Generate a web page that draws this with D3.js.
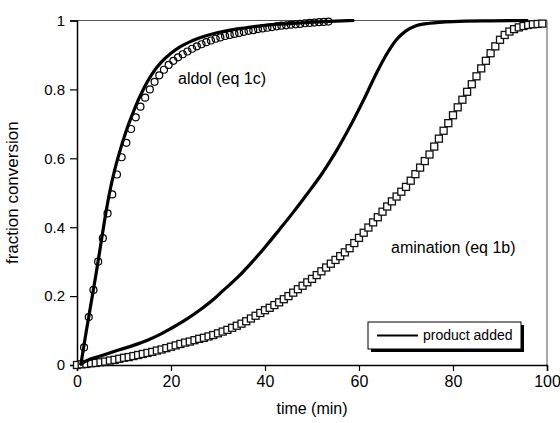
<html lang="en">
<head>
<meta charset="utf-8">
<title>fraction conversion vs time</title>
<script src="https://cdn.jsdelivr.net/npm/d3@7"></script>
<style>
  body { margin: 0; background: #fff; }
  text { font-family: "Liberation Sans", Arial, Helvetica, sans-serif; fill: #000; }
</style>
</head>
<body>
<script>
// amination data (squares), one point per minute starting at t = 0
var aminStart = 0;
var aminValues = [
  0.000, 0.002, 0.003, 0.005, 0.006, 0.008, 0.010, 0.013, 0.015, 0.018,
  0.021, 0.023, 0.026, 0.029, 0.032, 0.035, 0.038, 0.042, 0.045, 0.049,
  0.053, 0.057, 0.061, 0.065, 0.068, 0.072, 0.076, 0.079, 0.083, 0.087,
  0.092, 0.097, 0.102, 0.108, 0.114, 0.120, 0.127, 0.135, 0.143, 0.151,
  0.159, 0.166, 0.174, 0.182, 0.191, 0.200, 0.210, 0.220, 0.230, 0.240,
  0.250, 0.261, 0.272, 0.283, 0.294, 0.305, 0.316, 0.327, 0.339, 0.354,
  0.369, 0.384, 0.399, 0.414, 0.429, 0.445, 0.460, 0.475, 0.489, 0.503,
  0.517, 0.535, 0.554, 0.573, 0.592, 0.611, 0.634, 0.657, 0.680, 0.702,
  0.725, 0.748, 0.770, 0.793, 0.815, 0.838, 0.861, 0.883, 0.905, 0.925,
  0.944, 0.958, 0.968, 0.975, 0.980, 0.984, 0.987, 0.989, 0.990, 0.991
];

// aldol data (circles), one point per minute starting at t = 1.5
var aldolStart = 1.5;
var aldolValues = [
  0.051, 0.139, 0.218, 0.300, 0.368, 0.440, 0.495, 0.553, 0.603, 0.645,
  0.685, 0.719, 0.750, 0.776, 0.800, 0.822, 0.841, 0.857, 0.871, 0.883,
  0.893, 0.902, 0.910, 0.918, 0.925, 0.931, 0.937, 0.942, 0.947, 0.951,
  0.955, 0.958, 0.961, 0.964, 0.967, 0.970, 0.972, 0.975, 0.977, 0.979,
  0.981, 0.983, 0.985, 0.986, 0.988, 0.989, 0.990, 0.992, 0.993, 0.994,
  0.995, 0.996, 0.997
];

// "product added" curves
var aldolLineT = [0.8, 2, 3, 4, 5, 6, 7, 8, 9, 10, 11, 12, 13, 14, 15, 16, 17, 18, 20, 22, 24, 26, 28, 32, 36, 40, 45, 50, 55, 59];
var aldolLineY = [0, 0.1, 0.18, 0.26, 0.345, 0.43, 0.505, 0.565, 0.615, 0.66, 0.70, 0.735, 0.768, 0.797, 0.823, 0.845, 0.864, 0.88, 0.905, 0.924, 0.938, 0.949, 0.958, 0.971, 0.979, 0.986, 0.991, 0.995, 0.998, 1.0];

var aminLineT = [0.6, 2, 5, 9, 12, 15, 18, 20, 23, 26, 29, 31, 34, 37, 40, 43, 46, 49, 52, 55, 58, 61, 64, 66, 68, 70, 72, 75, 80, 88, 96];
var aminLineY = [0, 0.012, 0.026, 0.044, 0.057, 0.072, 0.091, 0.106, 0.13, 0.158, 0.19, 0.215, 0.252, 0.295, 0.342, 0.392, 0.443, 0.497, 0.553, 0.617, 0.69, 0.77, 0.855, 0.905, 0.945, 0.97, 0.984, 0.992, 0.997, 0.999, 1.0];

var xTicks = [0, 20, 40, 60, 80, 100];
var yTicks = [0, 0.2, 0.4, 0.6, 0.8, 1];
var yTickLabels = ["0", "0.2", "0.4", "0.6", "0.8", "1"];

var w = 560, h = 423;
var margin = {left: 77, top: 20.5, right: 13, bottom: 58};

var svg = d3.select("body").append("svg")
  .attr("width", w)
  .attr("height", h);

var x = d3.scaleLinear().domain([0, 100]).range([margin.left, w - margin.right]);
var y = d3.scaleLinear().domain([0, 1]).range([h - margin.bottom, margin.top]);

// frame (top and right)
svg.append("path")
  .attr("d", "M" + x(0) + "," + y(1) + "H" + x(100) + "V" + y(0))
  .attr("fill", "none")
  .attr("stroke", "#555")
  .attr("stroke-width", 1);

// axes
var xAxis = d3.axisBottom(x).tickValues(xTicks).tickSize(6).tickPadding(5).tickFormat(d3.format("d"));
var yAxis = d3.axisLeft(y).tickValues(yTicks).tickSize(7).tickPadding(5)
  .tickFormat(function(d, i) { return yTickLabels[i]; });

var gx = svg.append("g").attr("transform", "translate(0," + y(0) + ")").call(xAxis);
var gy = svg.append("g").attr("transform", "translate(" + x(0) + ",0)").call(yAxis);

[gx, gy].forEach(function(g) {
  g.select(".domain").attr("stroke", "#000").attr("stroke-width", 1.5);
  g.selectAll(".tick line").attr("stroke", "#000").attr("stroke-width", 1.2);
  g.selectAll("text").attr("font-family", "Liberation Sans, Arial, sans-serif").attr("fill", "#000");
});
gx.selectAll("text").attr("font-size", 16);
gy.selectAll("text").attr("font-size", 15);

// squares
var sq = 7;
svg.append("g").selectAll("rect")
  .data(aminValues)
  .enter()
  .append("rect")
  .attr("x", function(d, i) { return x(aminStart + i) - sq / 2; })
  .attr("y", function(d) { return y(d) - sq / 2; })
  .attr("width", sq)
  .attr("height", sq)
  .attr("fill", "#fff")
  .attr("stroke", "#111")
  .attr("stroke-width", 1.3);

// circles
svg.append("g").selectAll("circle")
  .data(aldolValues)
  .enter()
  .append("circle")
  .attr("cx", function(d, i) { return x(aldolStart + i); })
  .attr("cy", function(d) { return y(d); })
  .attr("r", 3.5)
  .attr("fill", "none")
  .attr("stroke", "#000")
  .attr("stroke-width", 1.2);

// product added lines
var line = d3.line()
  .x(function(d) { return x(d[0]); })
  .y(function(d) { return y(d[1]); })
  .curve(d3.curveMonotoneX);

svg.append("path")
  .attr("d", line(d3.zip(aldolLineT, aldolLineY)))
  .attr("fill", "none").attr("stroke", "#000").attr("stroke-width", 3.2);
svg.append("path")
  .attr("d", line(d3.zip(aminLineT, aminLineY)))
  .attr("fill", "none").attr("stroke", "#000").attr("stroke-width", 3.2);

// curve labels
svg.append("text").attr("x", 178).attr("y", 84).attr("font-size", 16).text("aldol (eq 1c)");
svg.append("text").attr("x", 391).attr("y", 253).attr("font-size", 16).text("amination (eq 1b)");

// legend box with shadow
var lg = svg.append("g");
lg.append("rect").attr("x", 371).attr("y", 325).attr("width", 153).attr("height", 27).attr("fill", "#000");
lg.append("rect").attr("x", 368).attr("y", 322).attr("width", 153).attr("height", 27)
  .attr("fill", "#fff").attr("stroke", "#000").attr("stroke-width", 1);
lg.append("line").attr("x1", 377).attr("x2", 418).attr("y1", 335.5).attr("y2", 335.5)
  .attr("stroke", "#000").attr("stroke-width", 2);
lg.append("text").attr("x", 423).attr("y", 340).attr("font-size", 14).text("product added");

// axis titles
svg.append("text")
  .attr("x", x(50)).attr("y", 414)
  .attr("text-anchor", "middle").attr("font-size", 16)
  .text("time (min)");
svg.append("text")
  .attr("transform", "translate(18," + ((y(0) + y(1)) / 2) + ") rotate(-90)")
  .attr("text-anchor", "middle").attr("font-size", 17)
  .text("fraction conversion");
</script>
</body>
</html>
